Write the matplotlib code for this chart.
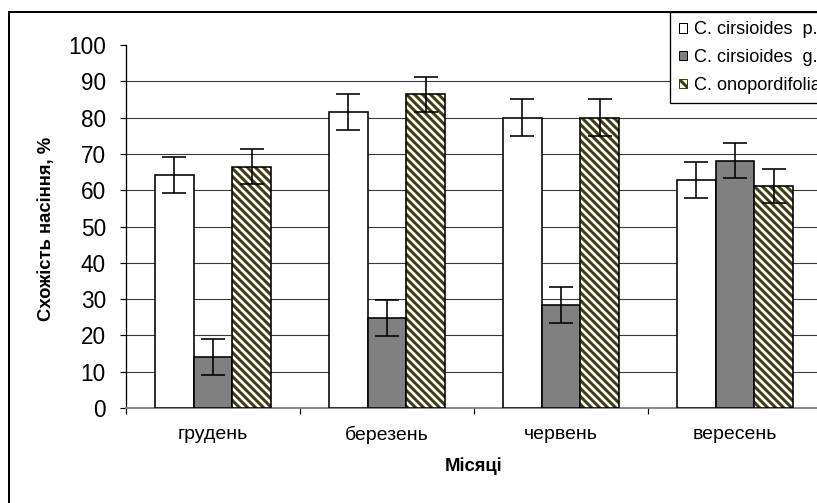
import matplotlib
matplotlib.use("Agg")
import matplotlib.pyplot as plt
import numpy as np
from matplotlib.patches import Rectangle, Patch

plt.rcParams['font.family'] = ['Liberation Sans', 'DejaVu Sans']

months = ['грудень', 'березень', 'червень', 'вересень']
series_names = ['C. cirsioides  p.', 'C. cirsioides  g.', 'C. onopordifolia']
vals_p = [64.2, 81.5, 80.0, 62.9]
vals_g = [14.0, 24.8, 28.4, 68.1]
vals_o = [66.5, 86.4, 80.0, 61.2]
err_p = [5.0, 4.9, 5.0, 5.0]
err_g = [5.0, 5.0, 5.0, 4.8]
err_o = [4.9, 4.9, 5.0, 4.7]
yticks = [0, 10, 20, 30, 40, 50, 60, 70, 80, 90, 100]
ylabel = 'Схожість насіння, %'
xlabel = 'Місяці'

DPI = 120
W, H = 817, 503
def pt(px):
    return px * 72.0 / DPI

fig = plt.figure(figsize=(W / DPI, H / DPI), dpi=DPI)
ax = fig.add_axes([126 / W, 1 - 408 / H, 696 / W, 363 / H])

olive = '#3d3d12'
HATCH = '\\' * 5
plt.rcParams['hatch.linewidth'] = pt(3.0)

x = np.arange(len(months))
bw = 0.224
err_kw = dict(ecolor='black', elinewidth=pt(1.6), capsize=pt(12), capthick=pt(1.6))

ax.bar(x - bw, vals_p, bw, color='white', edgecolor='black', linewidth=pt(1.6), zorder=3)
ax.bar(x, vals_g, bw, color='#808080', edgecolor='black', linewidth=pt(1.6), zorder=3)
ax.bar(x + bw, vals_o, bw, color='white', edgecolor=olive, hatch=HATCH, linewidth=0, zorder=3)
ax.bar(x + bw, vals_o, bw, color='none', edgecolor='black', linewidth=pt(1.6), zorder=3.5)

ax.errorbar(x - bw, vals_p, yerr=err_p, fmt='none', zorder=4, **err_kw)
ax.errorbar(x, vals_g, yerr=err_g, fmt='none', zorder=4, **err_kw)
ax.errorbar(x + bw, vals_o, yerr=err_o, fmt='none', zorder=4, **err_kw)

ax.set_xlim(-0.5, len(months) - 0.5)
ax.set_ylim(0, 100)
ax.set_yticks(yticks)
for yv in yticks[1:-1]:
    ax.axhline(yv, color='#3a3a3a', linewidth=pt(1.1), zorder=1)

ax.set_xticks(x)
ax.set_xticklabels(months, fontsize=pt(19.5))
ax.set_xticks(np.arange(-0.5, len(months), 1.0), minor=True)
ax.tick_params(axis='x', which='major', length=0, pad=pt(18))
ax.tick_params(axis='x', which='minor', length=pt(6), width=pt(1.2), color='black', direction='out')
ax.tick_params(axis='y', length=pt(6), width=pt(1.2), direction='out', labelsize=pt(22.5), pad=pt(14))

for s in ['top', 'right']:
    ax.spines[s].set_visible(False)
ax.spines['left'].set_linewidth(pt(1.3))
ax.spines['left'].set_color('black')
ax.spines['bottom'].set_linewidth(pt(1.8))
ax.spines['bottom'].set_color('#808080')

fig.text(47 / W, 1 - 229 / H, ylabel, rotation=90, fontsize=pt(18.5), fontweight='bold',
         ha='center', va='center')
fig.text(474 / W, 1 - 466 / H, xlabel, fontsize=pt(18.5), fontweight='bold',
         ha='center', va='center')

# outer chart border
fig.patches.append(Rectangle((9 / W, -0.2), 1.5, 1.2 - 12 / H, transform=fig.transFigure,
                             fill=False, edgecolor='black', linewidth=pt(2)))

handles = [Patch(facecolor='white', edgecolor='black', linewidth=pt(1)),
           Patch(facecolor='#808080', edgecolor='black', linewidth=pt(1)),
           Patch(facecolor='white', edgecolor=olive, hatch='\\' * 3, linewidth=pt(1))]
leg = fig.legend(handles, series_names, loc='upper left',
                 bbox_to_anchor=(670 / W, 1 - 12 / H), bbox_transform=fig.transFigure,
                 borderaxespad=0, fontsize=pt(18.2), frameon=True, fancybox=False,
                 edgecolor='black', framealpha=1, handlelength=0.45, handleheight=0.45,
                 handletextpad=0.38, borderpad=0.5, labelspacing=0.6)
leg.get_frame().set_linewidth(pt(1.3))

fig.savefig('out.png', dpi=DPI)
